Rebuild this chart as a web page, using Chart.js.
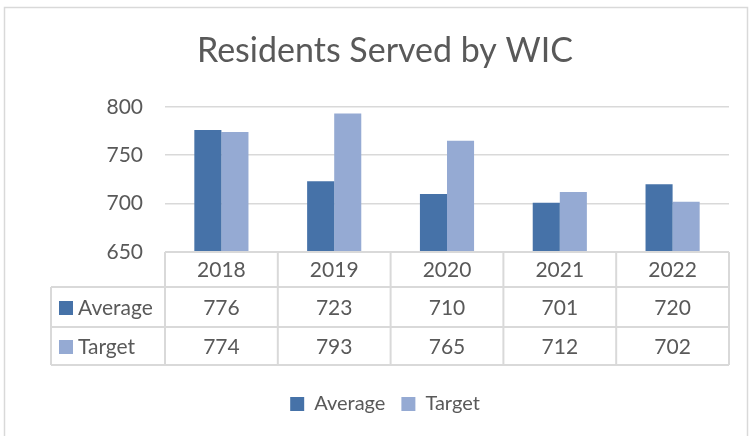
<!DOCTYPE html>
<html>
<head>
<meta charset="utf-8">
<title>Residents Served by WIC</title>
<script src="https://cdn.jsdelivr.net/npm/chart.js@4.4.1/dist/chart.umd.min.js"></script>
<style>
  html, body { margin: 0; padding: 0; background: #fff; }
  canvas { display: block; }
</style>
</head>
<body>
<canvas id="wicChart" width="751" height="436"></canvas>
<script>
// Data
const years = ['2018', '2019', '2020', '2021', '2022'];
const averageValues = [776, 723, 710, 701, 720];
const targetValues = [774, 793, 765, 712, 702];
const yTicks = [650, 700, 750, 800];

const textColor = '#595959';
const lineColor = '#d9d9d9';
const averageColor = '#4672a8';
const targetColor = '#95aad3';
const fontFamily = 'Lato, "Open Sans", sans-serif';

// Outer frame of the chart
const chartFrame = {
    id: 'chartFrame',
    beforeDraw(chart) {
        const ctx = chart.ctx;
        ctx.save();
        ctx.fillStyle = '#fff';
        ctx.fillRect(0, 0, chart.width, chart.height);
        ctx.strokeStyle = lineColor;
        ctx.lineWidth = 1.5;
        ctx.strokeRect(4.5, 7.5, chart.width - 8, chart.height);
        ctx.restore();
    }
};

// Excel style data table under the plot
const dataTable = {
    id: 'dataTable',
    afterDraw(chart) {
        const { ctx, chartArea, scales: { x } } = chart;
        const half = (chartArea.right - chartArea.left) / years.length / 2;
        const top = chartArea.bottom;
        const rows = [top, top + 35, top + 75, top + 113];
        const labelLeft = 51;

        ctx.save();
        ctx.strokeStyle = lineColor;
        ctx.lineWidth = 2;
        const line = (x1, y1, x2, y2) => {
            ctx.beginPath();
            ctx.moveTo(x1, y1);
            ctx.lineTo(x2, y2);
            ctx.stroke();
        };

        line(chartArea.left, rows[0], chartArea.right, rows[0]);
        for (let r = 1; r < rows.length; r++) {
            line(labelLeft, rows[r], chartArea.right, rows[r]);
        }
        line(labelLeft, rows[1], labelLeft, rows[3]);
        years.forEach((y, i) => {
            line(x.getPixelForValue(i) - half, rows[0], x.getPixelForValue(i) - half, rows[3]);
        });
        line(chartArea.right, rows[0], chartArea.right, rows[3]);

        ctx.font = '21px ' + fontFamily;
        ctx.fillStyle = textColor;
        ctx.textAlign = 'center';
        ctx.textBaseline = 'middle';

        // header row with the years
        years.forEach((y, i) => {
            ctx.fillText(y, x.getPixelForValue(i), (rows[0] + rows[1]) / 2 + 1);
        });

        // one row per series
        chart.data.datasets.forEach((ds, d) => {
            const cy = (rows[d + 1] + rows[d + 2]) / 2 + 1;
            ctx.fillStyle = ds.backgroundColor;
            ctx.fillRect(59, cy - 7, 14, 14);
            ctx.fillStyle = textColor;
            ctx.textAlign = 'left';
            ctx.fillText(ds.label, 78, cy);
            ctx.textAlign = 'center';
            ds.data.forEach((v, i) => {
                ctx.fillText(String(v), x.getPixelForValue(i), cy);
            });
        });
        ctx.restore();
    }
};

const ctx = document.getElementById('wicChart').getContext('2d');
new Chart(ctx, {
    type: 'bar',
    data: {
        labels: years,
        datasets: [
            { label: 'Average', data: averageValues, backgroundColor: averageColor },
            { label: 'Target', data: targetValues, backgroundColor: targetColor }
        ]
    },
    options: {
        responsive: false,
        animation: false,
        devicePixelRatio: 1,
        categoryPercentage: 0.48,
        barPercentage: 1.0,
        layout: {
            padding: { left: 41, right: 22, top: 11, bottom: 12 }
        },
        scales: {
            x: {
                grid: { display: false },
                border: { display: false },
                ticks: { display: false },
                afterFit(scale) { scale.height = 126; }
            },
            y: {
                min: yTicks[0],
                max: yTicks[yTicks.length - 1],
                afterBuildTicks(scale) {
                    scale.ticks = yTicks.map(v => ({ value: v }));
                },
                afterFit(scale) { scale.width = 124; },
                grid: { color: lineColor, drawTicks: false, lineWidth: 1.5 },
                border: { display: false },
                ticks: {
                    padding: 22,
                    color: textColor,
                    font: { size: 21, family: fontFamily }
                }
            }
        },
        plugins: {
            title: {
                display: true,
                text: 'Residents Served by WIC',
                color: textColor,
                font: { size: 34, weight: 'normal', family: fontFamily },
                padding: { top: 20, bottom: 35 }
            },
            legend: {
                position: 'bottom',
                labels: {
                    color: textColor,
                    boxWidth: 14,
                    boxHeight: 14,
                    padding: 16,
                    font: { size: 20, family: fontFamily }
                }
            },
            tooltip: { enabled: false }
        }
    },
    plugins: [chartFrame, dataTable]
});
</script>
</body>
</html>
